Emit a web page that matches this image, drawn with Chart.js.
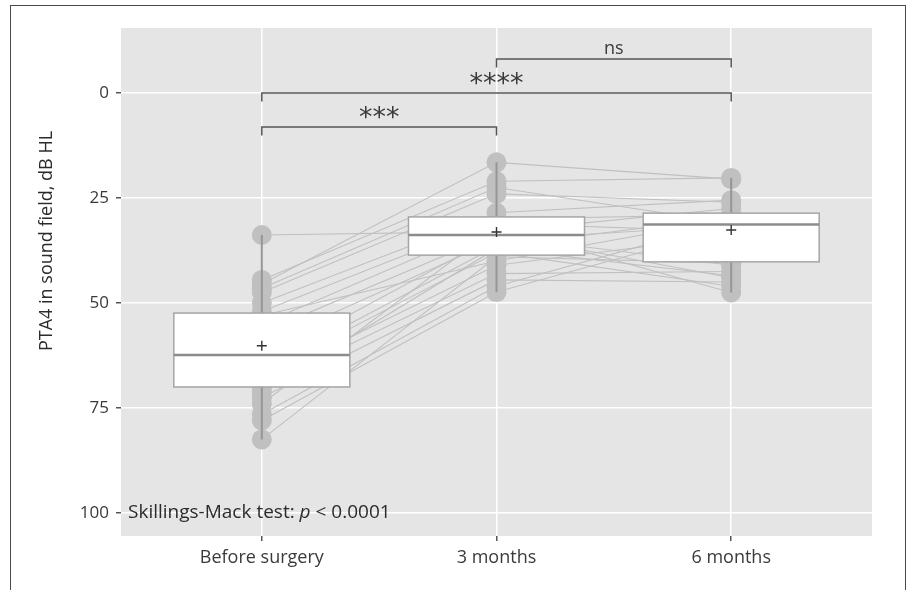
<!DOCTYPE html>
<html>
<head>
<meta charset="utf-8">
<script src="https://cdn.jsdelivr.net/npm/chart.js@4"></script>
<style>
  html, body { margin: 0; padding: 0; background: #fff; }
  #wrap { position: relative; width: 912px; height: 590px; overflow: hidden; }
  #frame { position: absolute; left: 10px; top: 5px; width: 894px; height: 600px; border: 1.5px solid #4a4a4a; }
  canvas { position: absolute; left: 0; top: 0; }
</style>
</head>
<body>
<div id="wrap">
  <div id="frame"></div>
  <canvas id="c" width="912" height="590"></canvas>
</div>
<script>
// categories and per-subject values (dB HL), one entry per patient
const categories = ['Before surgery', '3 months', '6 months'];
const beforeSurgery = [45.5, 33.8, 44.5, 46.5, 47.5, 50.0, 52.0, 53.0, 55.0, 57.0, 60.0, 64.0, 66.0, 67.0, 68.5, 70.0, 71.0, 72.5, 74.0, 76.5, 78.0, 82.5];
const threeMonths   = [16.5, 33.0, 21.0, 22.5, 24.0, 28.5, 30.0, 40.0, 31.0, 33.5, 35.0, 34.0, 36.5, 38.0, 41.0, 43.0, 37.0, 44.5, 32.0, 46.0, 47.4, 39.0];
const sixMonths     = [20.5, 27.5, 20.2, 31.0, 26.0, 25.5, 29.0, 30.0, 33.0, 44.0, 31.5, 41.0, 29.5, 46.0, 34.0, 42.5, 43.5, 45.0, 47.5, 30.5, 32.0, 40.5];

// box summaries
const boxQ1     = [52.4, 29.5, 28.6];
const boxMedian = [62.4, 33.8, 31.3];
const boxQ3     = [70.0, 38.6, 40.2];
const boxMean   = [60.2, 33.1, 32.6];
const whiskerLow  = [33.8, 16.5, 20.2];
const whiskerHigh = [82.5, 47.4, 47.5];

const yTicks = [0, 25, 50, 75, 100];

// significance brackets
const bracketFrom   = [1, 1, 2];
const bracketTo     = [2, 3, 3];
const bracketY      = [8.1, 0, -8.1];
const bracketLabels = ['***', '****', 'ns'];

const yTitle = 'PTA4 in sound field, dB HL';
const FONT = '"Open Sans", "Noto Sans", sans-serif';

const series = [beforeSurgery, threeMonths, sixMonths];

const subjectLines = beforeSurgery.map((_, i) => ({
  type: 'line',
  data: series.map((s, k) => ({ x: k + 1, y: s[i] })),
  borderColor: 'rgb(192,192,192)',
  borderWidth: 1.1,
  pointRadius: 0,
  showLine: true,
  order: 10
}));

const allPoints = [];
series.forEach((s, k) => s.forEach(v => allPoints.push({ x: k + 1, y: v })));

const panelBg = {
  id: 'panelBg',
  beforeDraw(chart) {
    const { ctx, chartArea: a } = chart;
    ctx.save();
    ctx.fillStyle = '#e5e5e6';
    ctx.fillRect(a.left, a.top, a.right - a.left, a.bottom - a.top);
    ctx.restore();
  },
  afterDraw(chart) {
    // axis title sits a bit above the panel middle in the original
    const { ctx } = chart;
    ctx.save();
    ctx.translate(47, 241);
    ctx.rotate(-Math.PI / 2);
    ctx.font = '18px ' + FONT;
    ctx.fillStyle = '#2b2b2b';
    ctx.textAlign = 'center';
    ctx.textBaseline = 'middle';
    ctx.fillText(yTitle, 0, 0);
    ctx.restore();
  }
};

const boxes = {
  id: 'boxes',
  afterDatasetsDraw(chart) {
    const { ctx, scales: { x, y }, chartArea: a } = chart;
    ctx.save();
    for (let k = 0; k < categories.length; k++) {
      const cx = x.getPixelForValue(k + 1);
      // whisker
      ctx.strokeStyle = 'rgb(150,150,150)';
      ctx.lineWidth = 2;
      ctx.beginPath();
      ctx.moveTo(cx, y.getPixelForValue(whiskerLow[k]));
      ctx.lineTo(cx, y.getPixelForValue(whiskerHigh[k]));
      ctx.stroke();
      // box
      const x0 = x.getPixelForValue(k + 1 - 0.375);
      const x1 = x.getPixelForValue(k + 1 + 0.375);
      const yTop = y.getPixelForValue(boxQ1[k]);
      const yBot = y.getPixelForValue(boxQ3[k]);
      ctx.fillStyle = '#fff';
      ctx.fillRect(x0, yTop, x1 - x0, yBot - yTop);
      ctx.strokeStyle = 'rgb(165,165,165)';
      ctx.lineWidth = 1.5;
      ctx.strokeRect(x0, yTop, x1 - x0, yBot - yTop);
      // median
      const ym = y.getPixelForValue(boxMedian[k]);
      ctx.strokeStyle = 'rgb(140,140,140)';
      ctx.lineWidth = 2.5;
      ctx.beginPath();
      ctx.moveTo(x0, ym);
      ctx.lineTo(x1, ym);
      ctx.stroke();
      // mean "+"
      const yMean = y.getPixelForValue(boxMean[k]);
      ctx.strokeStyle = '#333';
      ctx.lineWidth = 1.4;
      ctx.beginPath();
      ctx.moveTo(cx - 5, yMean); ctx.lineTo(cx + 5, yMean);
      ctx.moveTo(cx, yMean - 5); ctx.lineTo(cx, yMean + 5);
      ctx.stroke();
    }

    // brackets
    ctx.strokeStyle = '#555';
    ctx.lineWidth = 1.5;
    ctx.fillStyle = '#3a3a3a';
    ctx.textAlign = 'center';
    for (let i = 0; i < bracketLabels.length; i++) {
      const xa = x.getPixelForValue(bracketFrom[i]);
      const xb = x.getPixelForValue(bracketTo[i]);
      const yb = y.getPixelForValue(bracketY[i]);
      const yt = y.getPixelForValue(bracketY[i] + 2);
      ctx.beginPath();
      ctx.moveTo(xa, yt); ctx.lineTo(xa, yb); ctx.lineTo(xb, yb); ctx.lineTo(xb, yt);
      ctx.stroke();
      const xm = (xa + xb) / 2;
      ctx.textBaseline = 'alphabetic';
      if (bracketLabels[i] === 'ns') {
        ctx.font = '18px ' + FONT;
        ctx.fillText('ns', xm, yb - 5);
      } else {
        ctx.font = '27px "DejaVu Sans"';
        ctx.fillText(bracketLabels[i], xm, yb - 1);
      }
    }

    // test annotation
    ctx.fillStyle = '#2b2b2b';
    ctx.textAlign = 'left';
    ctx.textBaseline = 'middle';
    const ty = y.getPixelForValue(100);
    let tx = a.left + 7;
    const parts = [['Skillings-Mack test: ', ''], ['p', 'italic '], [' < 0.0001', '']];
    parts.forEach(([t, st]) => {
      ctx.font = st + '19px ' + FONT;
      ctx.fillText(t, tx, ty);
      tx += ctx.measureText(t).width;
    });
    ctx.restore();
  }
};

new Chart(document.getElementById('c'), {
  type: 'scatter',
  data: {
    datasets: [
      ...subjectLines,
      {
        data: allPoints,
        pointRadius: 10,
        pointBackgroundColor: 'rgb(192,192,192)',
        pointBorderWidth: 0,
        order: 5
      }
    ]
  },
  options: {
    responsive: false,
    animation: false,
    devicePixelRatio: 1,
    layout: { padding: { left: 31, top: 28, right: 40, bottom: 0 } },
    plugins: { legend: { display: false }, tooltip: { enabled: false } },
    scales: {
      x: {
        type: 'linear',
        min: 0.4,
        max: 3.6,
        afterBuildTicks: (s) => { s.ticks = categories.map((_, k) => ({ value: k + 1 })); },
        afterFit: (s) => { s.height = 54; },
        ticks: {
          callback: (v) => categories[v - 1],
          color: '#3a3a3a',
          font: { family: FONT, size: 18 },
          padding: 6,
          maxRotation: 0
        },
        grid: { color: '#fff', lineWidth: 1.5, tickColor: '#555', tickLength: 5, tickWidth: 1.5 },
        border: { display: false }
      },
      y: {
        type: 'linear',
        reverse: true,
        min: -15.5,
        max: 105.5,
        afterBuildTicks: (s) => { s.ticks = yTicks.map(v => ({ value: v })); },
        afterFit: (s) => { s.width = 90; },
        ticks: {
          color: '#3a3a3a',
          font: { family: FONT, size: 17 },
          padding: 7
        },
        grid: { color: '#fff', lineWidth: 1.5, tickColor: '#555', tickLength: 5, tickWidth: 1.5 },
        border: { display: false }
      }
    }
  },
  plugins: [panelBg, boxes]
});
</script>
</body>
</html>
